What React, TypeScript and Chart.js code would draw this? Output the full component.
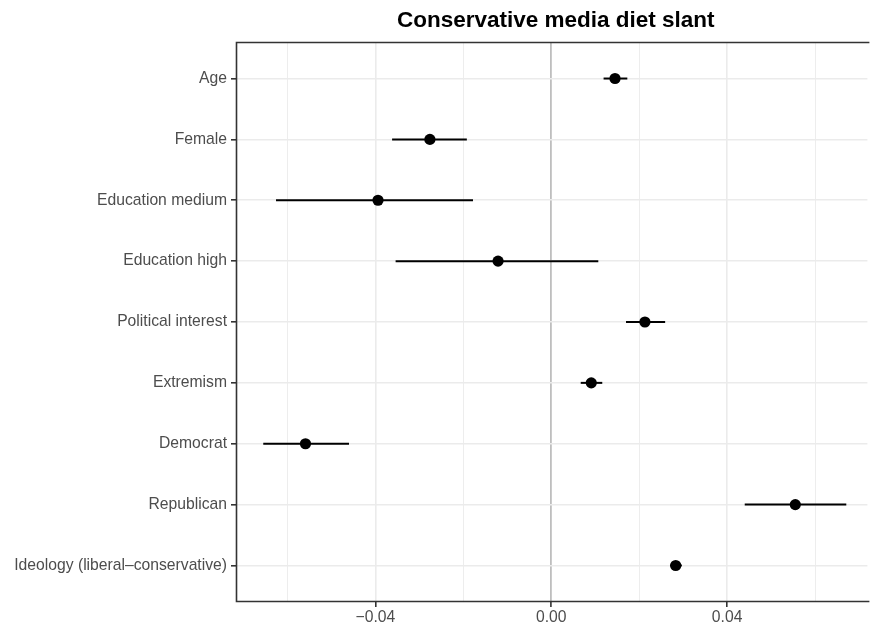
import React, { useEffect, useRef } from "react";
import { Chart, registerables } from "chart.js";

Chart.register(...registerables);

const categories = [
  "Age",
  "Female",
  "Education medium",
  "Education high",
  "Political interest",
  "Extremism",
  "Democrat",
  "Republican",
  "Ideology (liberal\u2013conservative)",
];
const estimates = [0.0145, -0.0276, -0.0394, -0.0121, 0.0213, 0.0091, -0.0559, 0.0555, 0.0283];
const lower = [0.0119, -0.0362, -0.0626, -0.0354, 0.0170, 0.0067, -0.0655, 0.0440, 0.0270];
const upper = [0.0173, -0.0192, -0.0178, 0.0107, 0.0259, 0.0116, -0.0460, 0.0671, 0.0297];
const xTicks = [-0.06, -0.04, -0.02, 0, 0.02, 0.04, 0.06];
const xMajor = [-0.04, 0, 0.04];
const xLabelled = ["\u22120.04", "0.00", "0.04"];
const title = "Conservative media diet slant";

const FONT = "'Liberation Sans', Arial, Helvetica, sans-serif";

const majorIndex = (v: number) => xMajor.findIndex((t) => Math.abs(t - v) < 1e-9);

const errorBarPlugin = {
  id: "errorBars",
  beforeDatasetsDraw(chart: any) {
    const { ctx, scales } = chart;
    ctx.save();
    ctx.strokeStyle = "#000000";
    ctx.lineWidth = 2;
    for (let i = 0; i < categories.length; i++) {
      const y = scales.y.getPixelForValue(i);
      ctx.beginPath();
      ctx.moveTo(scales.x.getPixelForValue(lower[i]), y);
      ctx.lineTo(scales.x.getPixelForValue(upper[i]), y);
      ctx.stroke();
    }
    ctx.restore();
  },
  afterDraw(chart: any) {
    const { ctx, chartArea } = chart;
    ctx.save();
    ctx.strokeStyle = "#333333";
    ctx.lineWidth = 1.6;
    ctx.beginPath();
    const l = Math.round(chartArea.left) + 0.5;
    const t = Math.round(chartArea.top) + 0.5;
    const b = Math.round(chartArea.bottom) - 0.5;
    const r = chartArea.right + 2;
    ctx.moveTo(r, t);
    ctx.lineTo(l, t);
    ctx.lineTo(l, b);
    ctx.lineTo(r, b);
    ctx.stroke();
    ctx.fillStyle = "#000000";
    ctx.font = `bold 22.5px ${FONT}`;
    ctx.textAlign = "center";
    ctx.textBaseline = "middle";
    ctx.fillText(title, (chartArea.left + chartArea.right) / 2 + 4, 21);
    ctx.restore();
  },
};

export default function App() {
  const canvasRef = useRef<HTMLCanvasElement | null>(null);

  useEffect(() => {
    document.body.style.margin = "0";
    const canvas = canvasRef.current;
    if (!canvas) return;
    const chart = new Chart(canvas, {
      type: "scatter",
      data: {
        datasets: [
          {
            data: estimates.map((v, i) => ({ x: v, y: i })),
            pointRadius: 5.6,
            pointHoverRadius: 5.6,
            backgroundColor: "#000000",
            borderWidth: 0,
          },
        ],
      },
      options: {
        animation: false,
        responsive: false,
        maintainAspectRatio: false,
        layout: { padding: { top: 42, right: 0, bottom: 0, left: 0 } },
        plugins: {
          legend: { display: false },
          title: { display: false },
          tooltip: { enabled: false },
        },
        scales: {
          x: {
            type: "linear",
            min: -0.0717,
            max: 0.0719,
            afterBuildTicks: (scale: any) => {
              scale.ticks = xTicks.map((v) => ({ value: v }));
            },
            afterFit: (scale: any) => {
              scale.height = 25;
              scale.paddingLeft = 0;
              scale.paddingRight = 0;
            },
            border: { display: false },
            grid: {
              color: (ctx: any) =>
                ctx.tick && Math.abs(ctx.tick.value) < 1e-9 ? "#BEBEBE" : "#EBEBEB",
              lineWidth: (ctx: any) =>
                ctx.tick && Math.abs(ctx.tick.value) < 1e-9
                  ? 1.8
                  : ctx.tick && majorIndex(ctx.tick.value) >= 0
                  ? 1.6
                  : 0.9,
              tickColor: (ctx: any) =>
                ctx.tick && majorIndex(ctx.tick.value) >= 0 ? "#333333" : "rgba(0,0,0,0)",
              tickLength: 5,
              tickWidth: 1.6,
            },
            ticks: {
              autoSkip: false,
              maxRotation: 0,
              padding: 1,
              color: "#4D4D4D",
              font: { family: FONT, size: 15.7 },
              callback: (value: any) => {
                const idx = majorIndex(Number(value));
                return idx >= 0 ? xLabelled[idx] : "";
              },
            },
          },
          y: {
            type: "linear",
            reverse: true,
            min: -0.6,
            max: 8.6,
            afterBuildTicks: (scale: any) => {
              scale.ticks = categories.map((_, i) => ({ value: i }));
            },
            afterFit: (scale: any) => {
              scale.width = 236;
              scale.paddingTop = 0;
              scale.paddingBottom = 0;
            },
            border: { display: false },
            grid: {
              color: "#EBEBEB",
              lineWidth: 1.6,
              tickColor: "#333333",
              tickLength: 5,
              tickWidth: 1.6,
            },
            ticks: {
              autoSkip: false,
              padding: 4,
              color: "#4D4D4D",
              font: { family: FONT, size: 15.7 },
              callback: (value: any) => categories[Number(value)] ?? "",
            },
          },
        },
      },
      plugins: [errorBarPlugin],
    });
    return () => chart.destroy();
  }, []);

  return (
    <div style={{ position: "absolute", left: 0, top: 0, width: 873, height: 627, background: "#FFFFFF", overflow: "hidden" }}>
      <canvas ref={canvasRef} width={873} height={627} style={{ width: 873, height: 627, display: "block" }} />
    </div>
  );
}
